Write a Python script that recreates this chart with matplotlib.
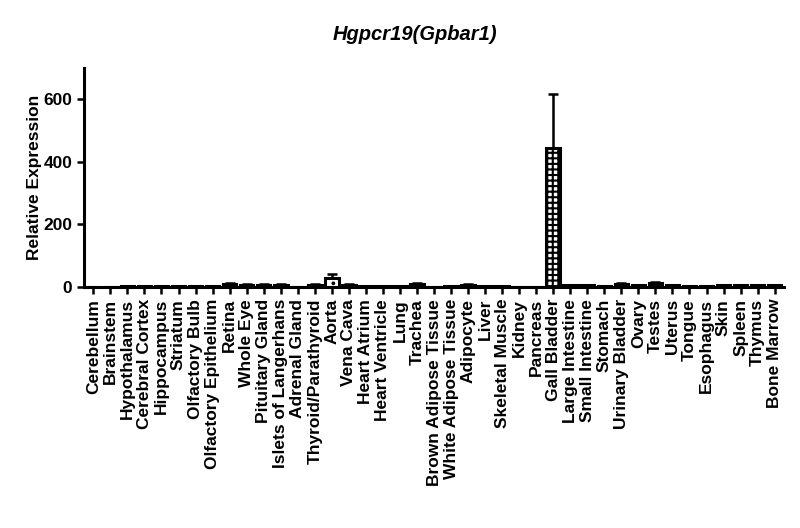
import matplotlib
matplotlib.use("Agg")
import matplotlib.pyplot as plt
import numpy as np

# tissues, in the order of the x axis
tissues = ["Cerebellum", "Brainstem", "Hypothalamus", "Cerebral Cortex", "Hippocampus",
           "Striatum", "Olfactory Bulb", "Olfactory Epithelium", "Retina", "Whole Eye",
           "Pituitary Gland", "Islets of Langerhans", "Adrenal Gland", "Thyroid/Parathyroid",
           "Aorta", "Vena Cava", "Heart Atrium", "Heart Ventricle", "Lung", "Trachea",
           "Brown Adipose Tissue", "White Adipose Tissue", "Adipocyte", "Liver",
           "Skeletal Muscle", "Kidney", "Pancreas", "Gall Bladder", "Large Intestine",
           "Small Intestine", "Stomach", "Urinary Bladder", "Ovary", "Testes", "Uterus",
           "Tongue", "Esophagus", "Skin", "Spleen", "Thymus", "Bone Marrow"]

# relative expression (mean) and upper error
expression = [1, 0.5, 2, 2, 2, 4, 4, 4, 10, 8,
              8, 8, 1, 8, 30, 8, 2, 2, 4, 10,
              1, 4, 8, 4, 2, 1, 1, 445, 6, 6,
              4, 10, 6, 12, 6, 2, 2, 6, 6, 6,
              6]
error = [0, 0, 0, 0, 0, 0, 0, 0, 3, 2,
         2, 2, 0, 2, 12, 2, 0, 0, 0, 3,
         0, 0, 2, 0, 0, 0, 0, 172, 0, 0,
         0, 3, 0, 3, 0, 0, 0, 0, 0, 0,
         0]

plt.rcParams['font.family'] = ['Liberation Sans', 'DejaVu Sans']
plt.rcParams['font.weight'] = 'bold'
plt.rcParams['hatch.linewidth'] = 1.5

fig = plt.figure(figsize=(8, 5.28), dpi=100)
ax = fig.add_axes([0.105, 0.4564, 0.875, 0.415])

x = np.arange(len(tissues))
hatches = ['+++'] * len(tissues)
hatches[tissues.index("Aorta")] = '..'

bars = ax.bar(x, expression, width=0.8, color='white', edgecolor='black',
              linewidth=2.2, zorder=2)
for b, h in zip(bars, hatches):
    b.set_hatch(h)

yerr = [np.zeros(len(error)), error]
ax.errorbar(x, expression, yerr=yerr, fmt='none', ecolor='black',
            elinewidth=1.8, capsize=3.5, capthick=1.8, zorder=3)

ax.set_xlim(-0.55, 40.55)
ax.set_ylim(0, 700)
ax.set_yticks([0, 200, 400, 600])
ax.set_xticks(x)
ax.set_xticklabels(tissues, rotation=90, fontsize=12.5, fontweight='bold')
ax.tick_params(axis='y', labelsize=12.5, width=1.8, length=5)
ax.tick_params(axis='x', width=1.8, length=5)
for lbl in ax.get_yticklabels():
    lbl.set_fontweight('bold')

ax.spines['top'].set_visible(False)
ax.spines['right'].set_visible(False)
ax.spines['left'].set_linewidth(2.2)
ax.spines['bottom'].set_linewidth(2.2)

ax.set_ylabel("Relative Expression", fontsize=12.5, fontweight='bold', labelpad=1)
fig.text(415 / 800, 1 - 35 / 528, "Hgpcr19(Gpbar1)", fontsize=14.5,
         fontweight='bold', fontstyle='italic', ha='center', va='center')

fig.savefig("out.png", dpi=100)
